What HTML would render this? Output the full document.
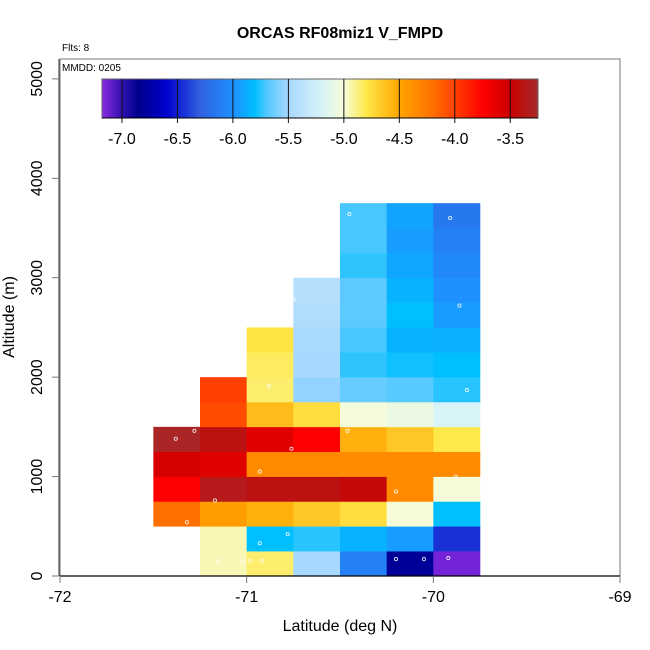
<!DOCTYPE html>
<html><head><meta charset="utf-8">
<style>
html,body{margin:0;padding:0;background:#fff;}
svg{display:block;font-family:"Liberation Sans",Arial,sans-serif;}
</style></head>
<body>
<svg id="chart" width="650" height="650" viewBox="0 0 650 650">
<defs><linearGradient id="cbgrad" x1="0" x2="1" y1="0" y2="0"></linearGradient></defs>
<text x="340" y="38" text-anchor="middle" font-size="16" font-weight="bold">ORCAS RF08miz1 V_FMPD</text>
<text x="62" y="51" font-size="10">Flts: 8</text>
<g id="cells"></g>
<g id="dots"></g>
<rect x="60" y="59" width="560" height="517" fill="none" stroke="#777" stroke-width="1"/>
<line x1="60" y1="576" x2="620" y2="576" stroke="#000" stroke-width="1.2"/>
<line x1="59" y1="59" x2="59" y2="576" stroke="#555" stroke-width="1.2"/>
<text x="62" y="71" font-size="10">MMDD: 0205</text>
<g id="xticks"></g>
<g id="yticks"></g>
<text x="340" y="631" text-anchor="middle" font-size="16">Latitude (deg N)</text>
<text transform="translate(14,317) rotate(-90)" text-anchor="middle" font-size="16">Altitude (m)</text>
<g id="colorbar"></g>
</svg>
<script>
// ---- data ----
const lonEdges = [-71.5, -71.25, -71.0, -70.75, -70.5, -70.25, -70.0];
const altBins = [0,250,500,750,1000,1250,1500,1750,2000,2250,2500,2750,3000,3250,3500];
const row0  = [null,-4.95,-4.85,-5.5,-6.1,-6.8,-7.15];
const row1  = [null,-4.95,-5.8,-5.75,-5.85,-5.95,-6.45];
const row2  = [-4.2,-4.45,-4.55,-4.65,-4.75,-5.0,-5.8];
const row3  = [-3.75,-3.35,-3.4,-3.4,-3.45,-4.35,-5.0];
const row4  = [-3.55,-3.6,-4.35,-4.35,-4.35,-4.35,-4.35];
const row5  = [-3.28,-3.4,-3.6,-3.75,-4.55,-4.65,-4.8];
const row6  = [null,-4.05,-4.6,-4.75,-5.02,-5.07,-5.2];
const row7  = [null,-4.0,-4.85,-5.55,-5.65,-5.68,-5.75];
const row8  = [null,null,-4.83,-5.5,-5.74,-5.78,-5.8];
const row9  = [null,null,-4.78,-5.48,-5.71,-5.85,-5.87];
const row10 = [null,null,null,-5.45,-5.67,-5.8,-5.95];
const row11 = [null,null,null,-5.42,-5.67,-5.85,-6.0];
const row12 = [null,null,null,null,-5.74,-5.9,-6.05];
const row13 = [null,null,null,null,-5.71,-5.95,-6.1];
const row14 = [null,null,null,null,-5.71,-5.92,-6.15];
const rows = [row0,row1,row2,row3,row4,row5,row6,row7,row8,row9,row10,row11,row12,row13,row14];
const pointLon = [-71.38,-71.28,-71.17,-71.32,-70.93,-70.76,-70.46,-70.2,-69.88,-71.15,-71.02,-70.98,-70.92,-70.88,-70.78,-70.93,-70.2,-70.05,-69.92,-70.45,-69.91,-69.86,-70.75,-69.82];
const pointAlt = [1380,1460,760,540,1050,1280,1460,850,1000,150,150,150,150,1910,420,330,170,170,180,3640,3600,2720,2780,1870];
const xTicks = [-72,-71,-70,-69];
const yTicks = [0,1000,2000,3000,4000,5000];
const cbTicks = [-7.0,-6.5,-6.0,-5.5,-5.0,-4.5,-4.0,-3.5];
const cbLabels = ["-7.0","-6.5","-6.0","-5.5","-5.0","-4.5","-4.0","-3.5"];
const palVals = [-7.2,-7.0,-6.85,-6.6,-6.3,-6.0,-5.8,-5.7,-5.5,-5.2,-5.0,-4.8,-4.5,-4.2,-4.0,-3.75,-3.5,-3.25];
const palCols = ["#8a2be2","#3010b0","#00008b","#0000cd","#3060e0","#1e90ff","#00bfff","#50c8ff","#a8d8ff","#d8f4f8","#f6fcd8","#ffe84a","#ffa500","#ff7000","#ff4000","#ff0000","#cc0000","#a52a2a"];

// ---- scales ----
const NS="http://www.w3.org/2000/svg";
const xS = v => 60 + (v + 72) / 3 * 560;
const yS = v => 576 - v * (517 / 5200);
const cbMin=-7.18, cbMax=-3.25;
const cbX = v => 102 + (v - cbMin) / (cbMax - cbMin) * 436;
function hex(c){return [1,3,5].map(i=>parseInt(c.substr(i,2),16));}
function color(v){
  if(v<=palVals[0]) return palCols[0];
  for(let i=1;i<palVals.length;i++){
    if(v<=palVals[i]){
      const t=(v-palVals[i-1])/(palVals[i]-palVals[i-1]);
      const a=hex(palCols[i-1]), b=hex(palCols[i]);
      return "rgb("+a.map((x,k)=>Math.round(x+(b[k]-x)*t)).join(",")+")";
    }
  }
  return palCols[palCols.length-1];
}
function mk(tag,attrs,parent){const e=document.createElementNS(NS,tag);for(const k in attrs)e.setAttribute(k,attrs[k]);parent.appendChild(e);return e;}

const cells=document.getElementById('cells');
rows.forEach((row,ri)=>{
  row.forEach((v,ci)=>{
    if(v===null) return;
    const x0=xS(lonEdges[ci]), x1=xS(lonEdges[ci]+0.25);
    const y0=yS(altBins[ri]+250), y1=yS(altBins[ri]);
    const r=mk('rect',{x:x0,y:y0,width:x1-x0+0.3,height:y1-y0+0.3,fill:color(v)},cells);
    
    
  });
});
const dots=document.getElementById('dots');
pointLon.forEach((lo,i)=>{
  const c=mk('circle',{cx:xS(lo),cy:yS(pointAlt[i]),r:1.6,fill:'none',stroke:'#fff','stroke-width':0.9,opacity:0.85},dots);
  
  
});
const xt=document.getElementById('xticks');
xTicks.forEach(v=>{
  const l=mk('line',{x1:xS(v),x2:xS(v),y1:576,y2:583,stroke:'#777','stroke-width':1},xt);
  
  
  const t=mk('text',{x:xS(v),y:602,'text-anchor':'middle','font-size':16},xt);
  t.textContent=v;
  
  
});
const yt=document.getElementById('yticks');
yTicks.forEach(v=>{
  const l=mk('line',{x1:52,x2:59,y1:yS(v),y2:yS(v),stroke:'#777','stroke-width':1},yt);
  
  
  const t=mk('text',{transform:'translate(42,'+yS(v)+') rotate(-90)','text-anchor':'middle','font-size':16},yt);
  t.textContent=v;
  
  
});
const grad=document.getElementById('cbgrad');
palVals.forEach((v,i)=>{
  const off=Math.max(0,Math.min(1,(v-cbMin)/(cbMax-cbMin)));
  mk('stop',{offset:off,'stop-color':palCols[i]},grad);
});
const cb=document.getElementById('colorbar');
const cr=mk('rect',{x:102,y:79,width:436,height:39,fill:'url(#cbgrad)',stroke:'#666','stroke-width':1},cb);


cbTicks.forEach((v,i)=>{
  const l=mk('line',{x1:cbX(v),x2:cbX(v),y1:79,y2:123,stroke:'#111','stroke-width':1},cb);
  
  
  const t=mk('text',{x:cbX(v),y:144,'text-anchor':'middle','font-size':16},cb);
  t.textContent=cbLabels[i];
  
  
});
mk('line',{x1:102,x2:538,y1:118,y2:118,stroke:'#000','stroke-width':1},cb);
</script>
</body></html>
